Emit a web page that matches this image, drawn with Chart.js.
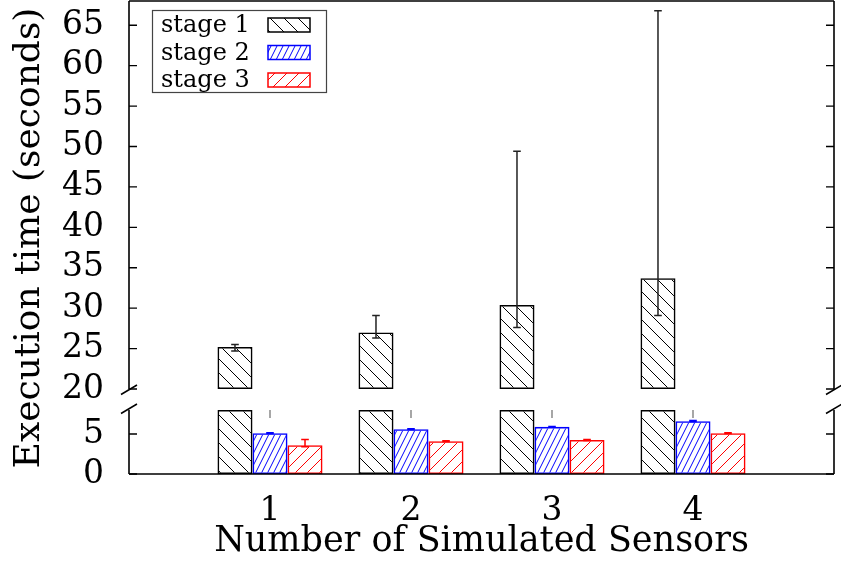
<!DOCTYPE html>
<html><head><meta charset="utf-8">
<script src="https://cdn.jsdelivr.net/npm/chart.js@4/dist/chart.umd.min.js"></script>
<style>
html,body{margin:0;padding:0;background:#fff;}
#wrap{position:relative;width:841px;height:565px;overflow:hidden;}
canvas{position:absolute;left:0;top:0;}
</style></head><body>
<div id="wrap"><canvas id="topc" width="841" height="565"></canvas><canvas id="botc" width="841" height="565"></canvas></div>
<script>
// ---------------- data ----------------
const categories = ['1', '2', '3', '4'];
const seriesNames = ['stage 1', 'stage 2', 'stage 3'];
const stage1 = [25.2, 27.0, 30.4, 33.7];
const stage1Low = [24.7, 26.3, 27.6, 29.1];
const stage1High = [25.5, 29.1, 49.4, 66.8];
const stage2 = [5.1, 5.6, 5.9, 6.6];
const stage2Low = [5.05, 5.55, 5.85, 6.55];
const stage2High = [5.15, 5.65, 5.95, 6.7];
const stage3 = [3.6, 4.1, 4.25, 5.1];
const stage3Low = [3.4, 4.05, 4.2, 5.05];
const stage3High = [4.3, 4.15, 4.3, 5.15];
const stubLow = [7.0, 7.0, 7.0, 7.0];
const stubHigh = [8.0, 8.0, 8.0, 8.0];
const topTicks = [20, 25, 30, 35, 40, 45, 50, 55, 60, 65];
const bottomTicks = [0, 5];
const topRange = [20, 68];
const bottomRange = [0, 8];
const xRange = [0, 5];

// ---------------- styles ----------------
const FONT = "'DejaVu Serif', serif";
const colors = ['#000000', '#0000ff', '#ff0000'];
const hatchSpec = [
  {w: 14, h: 14, dir: 'back'},
  {w: 6, h: 12, dir: 'fwd'},
  {w: 12, h: 12, dir: 'fwd'}
];

function hatch(ctx, color, spec) {
  const c = document.createElement('canvas');
  c.width = spec.w; c.height = spec.h;
  const g = c.getContext('2d');
  g.strokeStyle = color; g.lineWidth = 1;
  g.beginPath();
  for (let k = -1; k <= 1; k++) {
    if (spec.dir === 'back') { g.moveTo(k * spec.w, 0); g.lineTo(k * spec.w + spec.w, spec.h); }
    else { g.moveTo(k * spec.w, spec.h); g.lineTo(k * spec.w + spec.w, 0); }
  }
  g.stroke();
  return ctx.createPattern(c, 'repeat');
}

const errorBars = {
  id: 'errorBars',
  afterDatasetsDraw(chart) {
    const {ctx, chartArea: a} = chart;
    const ys = chart.scales.y;
    ctx.save();
    ctx.beginPath();
    ctx.rect(a.left, a.top - 1, a.right - a.left, a.bottom - a.top + 2);
    ctx.clip();
    chart.data.datasets.forEach((ds, di) => {
      const meta = chart.getDatasetMeta(di);
      meta.data.forEach((bar, j) => {
        const x = bar.x;
        if (ds.errLow) {
          const y1 = ys.getPixelForValue(ds.errLow[j]);
          const y2 = ys.getPixelForValue(ds.errHigh[j]);
          ctx.strokeStyle = ds.errColor; ctx.lineWidth = 1.5;
          ctx.beginPath();
          ctx.moveTo(x, y1); ctx.lineTo(x, y2);
          ctx.moveTo(x - 3.8, y1); ctx.lineTo(x + 3.8, y1);
          ctx.moveTo(x - 3.8, y2); ctx.lineTo(x + 3.8, y2);
          ctx.stroke();
        }
        if (ds.stubLow) {
          ctx.strokeStyle = '#777'; ctx.lineWidth = 1.3;
          ctx.beginPath();
          ctx.moveTo(x, ys.getPixelForValue(ds.stubLow[j]));
          ctx.lineTo(x, ys.getPixelForValue(ds.stubHigh[j]));
          ctx.stroke();
        }
      });
    });
    ctx.restore();
  }
};

function framePlugin(part) {
  return {
    id: 'frame_' + part,
    afterDraw(chart) {
      const {ctx, chartArea: a} = chart;
      const ys = chart.scales.y;
      ctx.save();
      ctx.strokeStyle = '#000'; ctx.lineWidth = 1.6;
      ctx.beginPath();
      ctx.moveTo(a.left, a.top); ctx.lineTo(a.left, a.bottom);
      ctx.moveTo(a.right, a.top); ctx.lineTo(a.right, a.bottom);
      if (part === 'top') { ctx.moveTo(a.left, a.top); ctx.lineTo(a.right, a.top); }
      else { ctx.moveTo(a.left, a.bottom); ctx.lineTo(a.right, a.bottom); }
      ctx.stroke();
      ctx.lineWidth = 1.3;
      ctx.beginPath();
      ys.ticks.forEach((t, i) => {
        const y = ys.getPixelForTick(i);
        ctx.moveTo(a.left, y); ctx.lineTo(a.left + 8, y);
        ctx.moveTo(a.right - 8, y); ctx.lineTo(a.right, y);
      });
      ctx.stroke();
      // axis-break marks
      ctx.lineWidth = 1.5;
      ctx.beginPath();
      const yb = part === 'top' ? a.bottom + 0.5 : a.top - 1.5;
      [a.left, a.right].forEach(x => {
        ctx.moveTo(x - 8, yb + 5); ctx.lineTo(x + 8, yb - 4.5);
      });
      ctx.stroke();
      ctx.restore();
    }
  };
}

const legendPlugin = {
  id: 'legendBox',
  afterDraw(chart) {
    const {ctx, chartArea: a} = chart;
    const bx = a.left + 23, by = a.top + 9;
    ctx.save();
    ctx.strokeStyle = '#444'; ctx.lineWidth = 1.2;
    ctx.strokeRect(bx + 0.5, by + 0.5, 174, 82);
    ctx.font = '24px ' + FONT;
    ctx.fillStyle = '#000';
    ctx.textBaseline = 'middle';
    ctx.textAlign = 'left';
    seriesNames.forEach((name, i) => {
      const yc = by + 15 + i * 27.5;
      ctx.fillText(name, bx + 9, yc + 1);
      ctx.fillStyle = chart.data.datasets[i].backgroundColor;
      ctx.fillRect(bx + 116, yc - 7, 42, 14);
      ctx.strokeStyle = colors[i]; ctx.lineWidth = 1.5;
      ctx.strokeRect(bx + 116, yc - 7, 42, 14);
      ctx.fillStyle = '#000';
    });
    // shared y-axis title
    ctx.translate(30, 238);
    ctx.rotate(-Math.PI / 2);
    ctx.textAlign = 'center';
    ctx.font = '36px ' + FONT;
    ctx.fillText('Execution time (seconds)', 0, 0);
    ctx.restore();
  }
};

function buildDatasets(ctx, part) {
  const s1 = part === 'top'
    ? stage1.map((v, i) => ({x: i + 1, y: [topRange[0], v]}))
    : stage1.map((v, i) => ({x: i + 1, y: Math.min(v, bottomRange[1])}));
  const series = [s1,
    stage2.map((v, i) => ({x: i + 1, y: v})),
    stage3.map((v, i) => ({x: i + 1, y: v}))];
  const lows = [stage1Low, stage2Low, stage3Low];
  const highs = [stage1High, stage2High, stage3High];
  return series.map((d, i) => ({
    label: seriesNames[i],
    data: d,
    backgroundColor: hatch(ctx, colors[i], hatchSpec[i]),
    borderColor: colors[i],
    borderWidth: 1.6,
    borderSkipped: false,
    clip: 4,
    errLow: lows[i], errHigh: highs[i], errColor: i === 0 ? '#222' : colors[i],
    stubLow: (part === 'bottom' && i === 1) ? stubLow : null,
    stubHigh: (part === 'bottom' && i === 1) ? stubHigh : null
  }));
}

function yAxis(range, tickValues) {
  return {
    type: 'linear', min: range[0], max: range[1],
    afterFit(s) { s.width = 129; s.paddingTop = 0; s.paddingBottom = 0; },
    afterBuildTicks(s) { s.ticks = tickValues.map(v => ({value: v})); },
    grid: {display: false, drawTicks: false},
    border: {display: false},
    ticks: {padding: 25, color: '#000', font: {family: FONT, size: 33}}
  };
}

Chart.defaults.font.family = FONT;

const topCtx = document.getElementById('topc').getContext('2d');
new Chart(topCtx, {
  type: 'bar',
  data: {datasets: buildDatasets(topCtx, 'top')},
  options: {
    responsive: false, animation: false, events: [],
    categoryPercentage: 0.745, barPercentage: 1.0,
    layout: {padding: {top: 1, bottom: 176, left: 0, right: 7}},
    plugins: {legend: {display: false}, tooltip: {enabled: false}},
    scales: {
      x: {type: 'linear', offset: false, min: xRange[0], max: xRange[1], display: false, ticks: {stepSize: 1}},
      y: yAxis(topRange, topTicks)
    }
  },
  plugins: [errorBars, framePlugin('top'), legendPlugin]
});

const botCtx = document.getElementById('botc').getContext('2d');
new Chart(botCtx, {
  type: 'bar',
  data: {datasets: buildDatasets(botCtx, 'bottom')},
  options: {
    responsive: false, animation: false, events: [],
    categoryPercentage: 0.745, barPercentage: 1.0,
    layout: {padding: {top: 410, bottom: 0, left: 0, right: 7}},
    plugins: {legend: {display: false}, tooltip: {enabled: false}},
    scales: {
      x: {
        type: 'linear', offset: false, min: xRange[0], max: xRange[1],
        afterFit(s) { s.height = 91; s.paddingLeft = 0; s.paddingRight = 0; },
        afterBuildTicks(s) { s.ticks = categories.map((c, i) => ({value: i + 1})); },
        grid: {display: false, drawTicks: false},
        border: {display: false},
        ticks: {padding: 18, color: '#000', font: {family: FONT, size: 33},
          callback: v => categories[v - 1]},
        title: {display: true, text: 'Number of Simulated Sensors', color: '#000',
          font: {family: FONT, size: 35}, padding: {top: 0, bottom: 2}}
      },
      y: yAxis(bottomRange, bottomTicks)
    }
  },
  plugins: [errorBars, framePlugin('bottom')]
});
</script>
</body></html>
